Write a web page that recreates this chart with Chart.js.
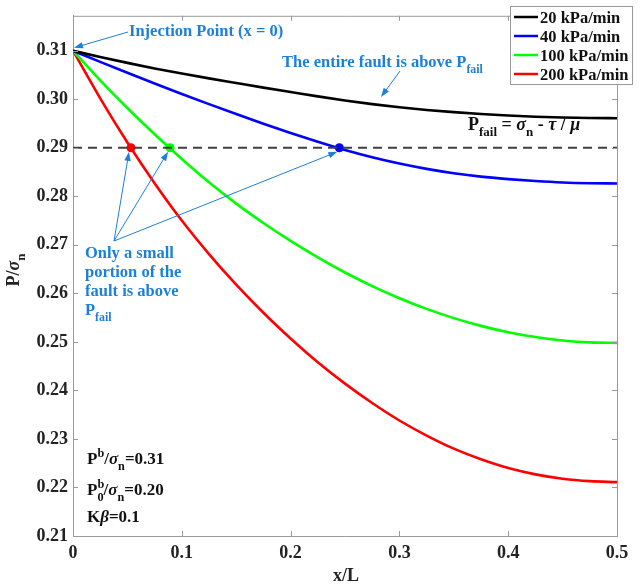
<!DOCTYPE html>
<html lang="en">
<head>
<meta charset="UTF-8">
<title>Pore pressure along the fault</title>
<script src="https://cdn.jsdelivr.net/npm/chart.js"></script>
<style>
  body { margin: 0; background: #fff; }
  #wrap { width: 640px; height: 588px; }
</style>
</head>
<body>
<div id="wrap"><canvas id="pChart" width="640" height="588"></canvas></div>
<script>
// x/L along the fault
const xL = [0, 0.025, 0.05, 0.075, 0.1, 0.125, 0.15, 0.175, 0.2, 0.225, 0.25,
            0.275, 0.3, 0.325, 0.35, 0.375, 0.4, 0.425, 0.45, 0.475, 0.5];
// P / sigma_n for each injection rate
const p20  = [0.3100, 0.30870, 0.30750, 0.30635, 0.30530, 0.30430, 0.30335, 0.30240, 0.30150, 0.30060, 0.29975,
              0.29900, 0.29835, 0.29780, 0.29735, 0.29695, 0.29665, 0.29640, 0.29625, 0.29615, 0.29610];
const p40  = [0.3100, 0.30770, 0.30545, 0.30325, 0.30110, 0.29900, 0.29695, 0.29495, 0.29305, 0.29125, 0.28955,
              0.28805, 0.28675, 0.28565, 0.28475, 0.28405, 0.28355, 0.28315, 0.28285, 0.28270, 0.28265];
const p100 = [0.3100, 0.3039, 0.2982, 0.2928, 0.2877, 0.2829, 0.2785, 0.2745, 0.2708, 0.2674, 0.2643,
              0.2615, 0.2590, 0.2568, 0.2549, 0.2533, 0.2520, 0.2510, 0.2503, 0.2499, 0.2498];
const p200 = [0.3100, 0.3002, 0.2911, 0.2827, 0.2750, 0.2681, 0.2618, 0.2560, 0.2507, 0.2458, 0.2414,
              0.2374, 0.2338, 0.2307, 0.2280, 0.2258, 0.2240, 0.2227, 0.2218, 0.2213, 0.2211];

const rateLabels = ['20 kPa/min', '40 kPa/min', '100 kPa/min', '200 kPa/min'];
const rateColors = ['#000000', '#0000ff', '#00ff00', '#ff0000'];

const pFail = 0.29;
// where the 40, 100 and 200 kPa/min curves cross P_fail
const crossX = [0.2448, 0.0892, 0.0533];
const crossColors = ['#0000ff', '#00ff00', '#ff0000'];

const xTicks = [0, 0.1, 0.2, 0.3, 0.4, 0.5];
const yTicks = [0.21, 0.22, 0.23, 0.24, 0.25, 0.26, 0.27, 0.28, 0.29, 0.30, 0.31];

const FONT = '"Liberation Serif", "Times New Roman", serif';
const annBlue = '#1c7fd8';

function pts(ys) {
  return xL.map((x, i) => ({ x: x, y: ys[i] }));
}

// text with sub/superscripts; kinds: n normal, g greek italic, sub, sup, supStay (sup that does not advance)
function richText(ctx, x, y, parts, size, color, align) {
  const font = k => {
    const small = k === 'sub' || k === 'sup' || k === 'supStay';
    return (k === 'g' ? 'italic bold ' : 'bold ') + (small ? size * 0.72 : size) + 'px ' + FONT;
  };
  const shift = k => k === 'sub' ? size * 0.34 : (k === 'sup' || k === 'supStay') ? -size * 0.4 : 0;
  let total = 0;
  for (const [t, k] of parts) {
    ctx.font = font(k);
    if (k !== 'supStay') total += ctx.measureText(t).width;
  }
  let cx = align === 'center' ? x - total / 2 : x;
  ctx.save();
  ctx.fillStyle = color;
  ctx.textAlign = 'left';
  ctx.textBaseline = 'alphabetic';
  for (const [t, k] of parts) {
    ctx.font = font(k);
    ctx.fillText(t, cx, y + shift(k));
    if (k !== 'supStay') cx += ctx.measureText(t).width;
  }
  ctx.restore();
  return total;
}

function arrow(ctx, x0, y0, x1, y1, color) {
  const a = Math.atan2(y1 - y0, x1 - x0);
  const L = 9, W = 3.2;
  ctx.save();
  ctx.strokeStyle = color;
  ctx.fillStyle = color;
  ctx.lineWidth = 1;
  ctx.beginPath();
  ctx.moveTo(x0, y0);
  ctx.lineTo(x1 - Math.cos(a) * L * 0.8, y1 - Math.sin(a) * L * 0.8);
  ctx.stroke();
  ctx.beginPath();
  ctx.moveTo(x1, y1);
  ctx.lineTo(x1 - Math.cos(a) * L - Math.sin(a) * W, y1 - Math.sin(a) * L + Math.cos(a) * W);
  ctx.lineTo(x1 - Math.cos(a) * L + Math.sin(a) * W, y1 - Math.sin(a) * L - Math.cos(a) * W);
  ctx.closePath();
  ctx.fill();
  ctx.restore();
}

// box around the axes, with inward ticks on all four sides
const framePlugin = {
  id: 'frame',
  afterDatasetsDraw(chart) {
    const { ctx, chartArea: a, scales } = chart;
    ctx.save();
    ctx.strokeStyle = '#9a9a9a';
    ctx.lineWidth = 1;
    ctx.beginPath();
    ctx.moveTo(a.left, a.top + 0.5);
    ctx.lineTo(a.right + 0.5, a.top + 0.5);
    ctx.lineTo(a.right + 0.5, a.bottom);
    for (const v of xTicks) {
      const px = Math.round(scales.x.getPixelForValue(v)) + 0.5;
      ctx.moveTo(px, a.bottom); ctx.lineTo(px, a.bottom - 5);
      ctx.moveTo(px, a.top); ctx.lineTo(px, a.top + 5);
    }
    for (const v of yTicks) {
      const py = Math.round(scales.y.getPixelForValue(v)) + 0.5;
      ctx.moveTo(a.left, py); ctx.lineTo(a.left + 5, py);
      ctx.moveTo(a.right, py); ctx.lineTo(a.right - 5, py);
    }
    ctx.stroke();
    ctx.restore();
  }
};

// axis titles, annotations and legend
const notesPlugin = {
  id: 'notes',
  afterDraw(chart) {
    const { ctx, scales } = chart;
    const X = v => scales.x.getPixelForValue(v);
    const Y = v => scales.y.getPixelForValue(v);

    // axis titles
    richText(ctx, 346, 581, [['x/L', 'n']], 18, '#222', 'center');
    ctx.save();
    ctx.translate(19, 270);
    ctx.rotate(-Math.PI / 2);
    richText(ctx, 0, 0, [['P/', 'n'], ['σ', 'g'], ['n', 'sub']], 18, '#222', 'center');
    ctx.restore();

    // injection point
    richText(ctx, 129, 36, [['Injection Point (x = 0)', 'n']], 16.5, annBlue);
    arrow(ctx, 128, 32, X(0) + 1, Y(0.31) - 3, annBlue);

    // entire fault above P_fail
    richText(ctx, 282, 67, [['The entire fault is above P', 'n'], ['fail', 'sub']], 16.5, annBlue);
    arrow(ctx, 400, 71, 381, 97, annBlue);

    // P_fail equation
    richText(ctx, 468, 130, [['P', 'n'], ['fail', 'sub'], [' = ', 'n'], ['σ', 'g'], ['n', 'sub'],
                             [' - ', 'n'], ['τ', 'g'], [' / ', 'n'], ['μ', 'g']], 18, '#111');

    // small portion note
    richText(ctx, 85, 258, [['Only a small', 'n']], 16.5, annBlue);
    richText(ctx, 85, 277, [['portion of the', 'n']], 16.5, annBlue);
    richText(ctx, 85, 296, [['fault is above', 'n']], 16.5, annBlue);
    richText(ctx, 85, 315, [['P', 'n'], ['fail', 'sub']], 16.5, annBlue);
    for (const cx of crossX) {
      arrow(ctx, 114, 241, X(cx) - 2, Y(pFail) + 4, annBlue);
    }

    // parameters
    richText(ctx, 87, 464, [['P', 'n'], ['b', 'sup'], ['/', 'n'], ['σ', 'g'], ['n', 'sub'], ['=0.31', 'n']], 17, '#111');
    richText(ctx, 87, 495, [['P', 'n'], ['b', 'supStay'], ['0', 'sub'], ['/', 'n'], ['σ', 'g'], ['n', 'sub'], ['=0.20', 'n']], 17, '#111');
    richText(ctx, 87, 522, [['K', 'n'], ['β', 'g'], ['=0.1', 'n']], 17, '#111');

    // legend
    const items = chart.data.datasets.filter(d => d.inLegend);
    ctx.save();
    ctx.fillStyle = '#fff';
    ctx.fillRect(510, 6, 123, 79);
    ctx.strokeStyle = '#999';
    ctx.lineWidth = 1;
    ctx.strokeRect(510.5, 6.5, 122, 78);
    items.forEach((d, i) => {
      const ry = 17 + i * 19;
      ctx.strokeStyle = d.borderColor;
      ctx.lineWidth = 2.5;
      ctx.beginPath();
      ctx.moveTo(514, ry);
      ctx.lineTo(538, ry);
      ctx.stroke();
      richText(ctx, 540, ry + 6, [[d.label, 'n']], 16.5, '#111');
    });
    ctx.restore();
  }
};

const curveSets = [p20, p40, p100, p200].map((ys, i) => ({
  label: rateLabels[i],
  data: pts(ys),
  borderColor: rateColors[i],
  borderWidth: 2.6,
  pointRadius: 0,
  fill: false,
  cubicInterpolationMode: 'monotone',
  inLegend: true
}));

const ctx = document.getElementById('pChart').getContext('2d');
const pChart = new Chart(ctx, {
  type: 'line',
  data: {
    datasets: [
      {
        label: 'P_fail',
        data: [{ x: 0, y: pFail }, { x: 0.5, y: pFail }],
        borderColor: '#404040',
        borderWidth: 2,
        borderDash: [9, 6],
        pointRadius: 0
      },
      ...curveSets,
      {
        type: 'scatter',
        label: 'crossings',
        data: crossX.map(x => ({ x: x, y: pFail })),
        pointBackgroundColor: crossColors,
        pointBorderWidth: 0,
        pointRadius: 4.5,
        showLine: false
      }
    ]
  },
  options: {
    responsive: false,
    animation: false,
    layout: { padding: { top: 11, right: 23, left: 0, bottom: 0 } },
    plugins: {
      legend: { display: false },
      tooltip: { enabled: false }
    },
    scales: {
      x: {
        type: 'linear',
        min: 0,
        max: 0.5,
        afterBuildTicks: s => { s.ticks = xTicks.map(v => ({ value: v })); },
        afterFit: s => { s.height = 52; },
        grid: { display: false, drawTicks: false },
        border: { display: true, color: '#9a9a9a', width: 1 },
        ticks: {
          padding: 7,
          color: '#222',
          font: { family: FONT, size: 18, weight: 'bold' },
          callback: v => String(Math.round(v * 10) / 10)
        }
      },
      y: {
        type: 'linear',
        min: 0.21,
        max: 0.3172,
        afterBuildTicks: s => { s.ticks = yTicks.map(v => ({ value: v })); },
        afterFit: s => { s.width = 73; },
        grid: { display: false, drawTicks: false },
        border: { display: true, color: '#9a9a9a', width: 1 },
        ticks: {
          padding: 5,
          color: '#222',
          font: { family: FONT, size: 18, weight: 'bold' },
          callback: v => v.toFixed(2)
        }
      }
    }
  },
  plugins: [framePlugin, notesPlugin]
});
</script>
</body>
</html>
